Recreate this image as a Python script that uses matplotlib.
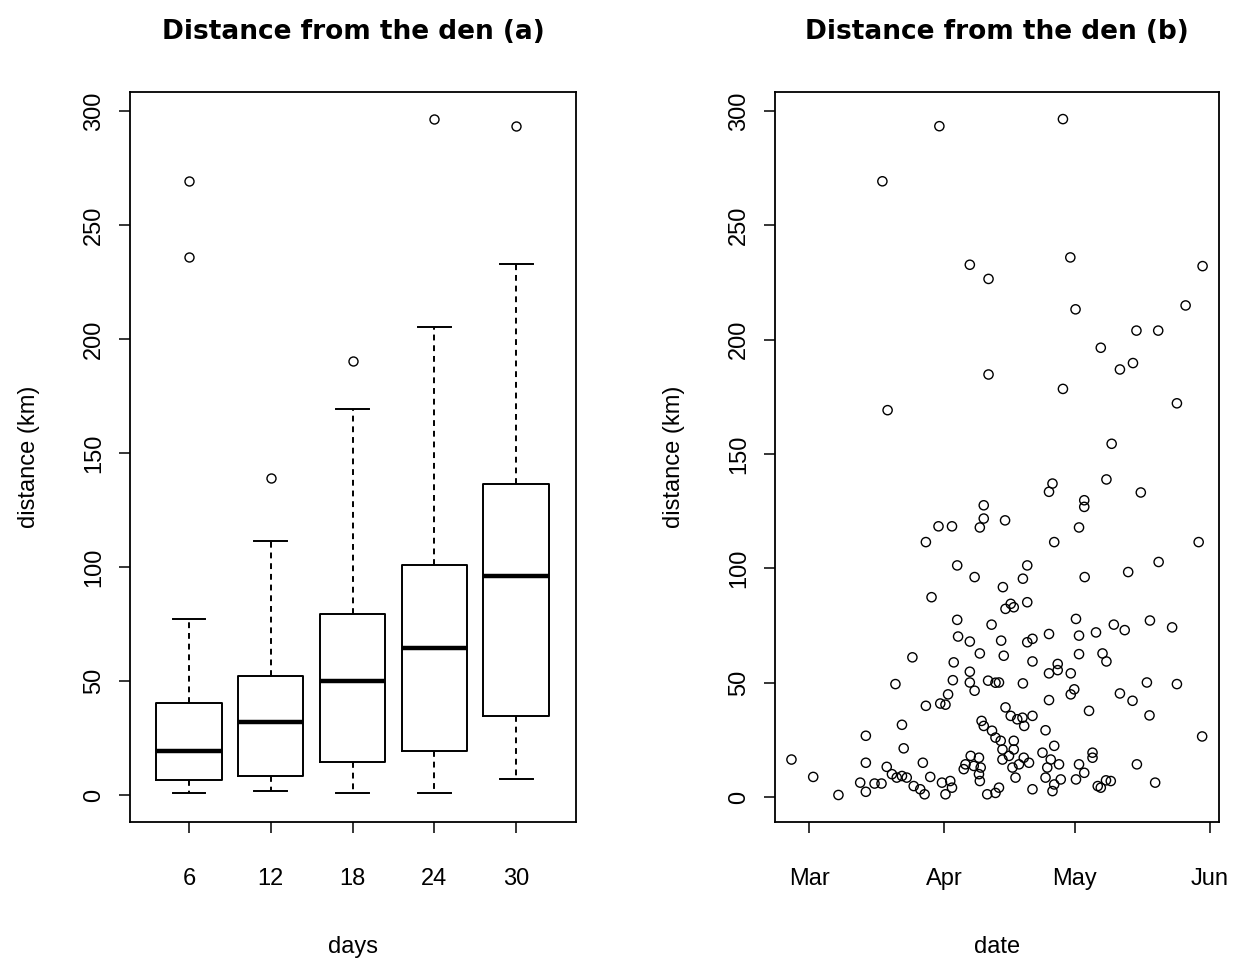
import matplotlib
matplotlib.use("Agg")
import matplotlib.pyplot as plt
import matplotlib.dates as mdates
from datetime import datetime

# --- panel (a): boxplot stats (km) ---
day_groups = ["6", "12", "18", "24", "30"]
whisker_low = [0.7, 1.8, 0.7, 0.9, 7.0]
q1 = [6.6, 8.5, 14.3, 19.3, 34.6]
medians = [19.4, 31.9, 50.1, 64.5, 96.0]
q3 = [40.2, 52.4, 79.2, 100.9, 136.4]
whisker_high = [77.3, 111.4, 169.3, 205.3, 232.9]
outliers = [[236.0, 269.3], [139.0], [190.4], [296.5], [293.4]]

# --- panel (b): scatter, days after 1 March and distance (km) ---
base_date = datetime(2005, 3, 1)
day_offsets = [
    29.9, 58.3, 16.8, 36.9, 41.2, 60.0, 90.4, 61.2, 86.5, 75.2, 80.2, 67.0,
    74.4, 71.4, 41.2, 58.3, 84.5, 18.0, 69.5,
    40.1, 40.1, 39.2, 29.7, 32.8, 26.8, 34.0, 38.0, 44.5, 28.1, 34.0, 41.9,
    55.9, 55.1, 63.2, 63.2, 45.0, 62.0, 56.3, 50.1, 49.1, 63.3, 46.3, 45.1,
    47.0, 50.1, 61.3,
    68.3, 76.2, 89.5, 80.3, 73.3, 78.3, 72.5, 83.4, 70.0,
    67.4, 68.3, 77.6, 84.5, 71.4, 74.3, 78.2, 90.3, 75.3, 68.2, 69.3, 67.0,
    79.5,
    19.8, 13.0, -4.1, 13.0, 0.9, 17.8, 19.0, 20.1, 11.7, 15.0, 16.6, 13.0,
    6.7,
    34.2, 36.9, 39.2, 23.7, 33.2, 33.0, 36.9, 36.9, 38.0, 41.1, 42.8, 31.9,
    30.1, 31.3, 26.8, 21.3, 39.6, 40.1, 42.0, 42.8, 21.7, 26.1, 37.1, 39.0,
    35.9, 37.8, 35.5, 39.4, 39.0, 39.2, 21.3, 22.4, 27.8, 24.0, 25.5, 26.5,
    30.5, 32.4, 32.8, 31.3, 40.9, 42.8,
    50.1, 51.3, 55.1, 62.0, 65.9, 44.1, 44.7, 62.0, 51.3, 57.1, 57.1, 55.1,
    60.1, 43.6, 49.1, 60.9, 60.1, 55.1, 64.3, 45.1, 46.3, 47.8, 49.0, 51.3,
    49.4, 54.3, 44.0, 47.0, 44.4, 47.0, 45.9, 49.3, 50.5, 48.2, 53.6, 56.3,
    55.5, 57.4, 54.7, 65.1, 65.1, 62.0, 63.2, 61.3, 44.4, 46.7, 47.4, 54.3,
    56.3, 57.8, 51.3, 55.9, 66.3, 43.6,
]
distances = [
    293.4, 296.5, 269.3, 232.8, 226.6, 236.0, 232.2, 213.3, 215.0, 204.0,
    204.0, 196.5, 189.8, 187.0, 184.8, 178.5, 172.2, 169.2, 154.5,
    127.6, 121.8, 117.9, 118.4, 118.4, 111.5, 101.3, 96.2, 91.8, 87.4, 77.5,
    75.4,
    137.1, 133.5, 129.8, 126.9, 121.0, 117.9, 111.5, 101.3, 95.5, 96.2, 84.5,
    82.3, 83.0, 85.2, 77.9,
    138.9, 133.2, 111.5, 102.8, 98.4, 77.2, 73.0, 74.2, 75.4,
    62.8, 59.3, 50.1, 49.4, 45.3, 42.1, 35.7, 26.5, 14.3, 7.3, 7.0, 4.1,
    6.3,
    49.4, 26.8, 16.4, 15.0, 8.8, 13.2, 10.0, 8.5, 6.3, 5.9, 5.9, 2.3,
    0.9,
    70.2, 68.0, 62.8, 61.1, 58.9, 51.1, 54.8, 50.1, 46.5, 50.9, 50.0, 44.9,
    40.9, 40.4, 39.9, 31.6, 33.3, 31.1, 29.0, 26.0, 21.3, 15.0, 18.0, 17.2,
    14.3, 13.6, 12.2, 12.9, 10.0, 7.0, 9.2, 8.5, 8.8, 4.8, 3.4, 1.2,
    6.3, 7.0, 4.1, 1.2, 1.2, 1.8,
    67.7, 69.2, 71.3, 70.6, 72.0, 68.4, 61.8, 62.5, 59.3, 58.2, 55.5, 54.1,
    54.1, 50.1, 49.7, 47.1, 44.9, 42.4, 37.7, 39.2, 35.5, 34.0, 34.7, 35.5,
    31.1, 29.2, 24.6, 24.6, 20.8, 20.8, 18.0, 17.2, 15.0, 14.3, 19.4, 22.4,
    16.4, 14.3, 12.9, 19.4, 17.2, 14.3, 10.6, 7.7, 16.4, 12.9, 8.5, 8.5,
    5.5, 7.7, 3.4, 2.6, 4.8, 4.1,
]

plt.rcParams["font.family"] = ["Liberation Sans", "DejaVu Sans"]

fig = plt.figure(figsize=(12.42, 9.63), dpi=100)
ax1 = fig.add_axes([0.1047, 0.1464, 0.359, 0.758])
ax2 = fig.add_axes([0.624, 0.1464, 0.3575, 0.758])

# boxplot
stats = []
for i, lab in enumerate(day_groups):
    stats.append({"label": lab, "whislo": whisker_low[i], "q1": q1[i], "med": medians[i],
                  "q3": q3[i], "whishi": whisker_high[i], "fliers": outliers[i]})
ax1.bxp(stats, widths=0.8, capwidths=0.4,
        boxprops=dict(color="black", linewidth=1.4),
        medianprops=dict(color="black", linewidth=3.2),
        whiskerprops=dict(color="black", linewidth=1.4, linestyle=(0, (3, 2.5))),
        capprops=dict(color="black", linewidth=1.4),
        flierprops=dict(marker="o", markerfacecolor="none", markeredgecolor="black",
                        markersize=6.5, markeredgewidth=1.0))

ymin, ymax = 0, max(max(o) for o in outliers)
pad = 0.04 * (ymax - ymin)
ax1.set_xlim(0.28, 5.73)
ax1.set_ylim(ymin - pad, ymax + pad)

# scatter
dates = [mdates.date2num(base_date) + d for d in day_offsets]
ax2.scatter(dates, distances, s=44, facecolors="none", edgecolors="black", linewidths=1.0)
xpad = 0.04 * (max(dates) - min(dates))
ax2.set_xlim(min(dates) - xpad, max(dates) + xpad)
ax2.set_ylim(min(distances) - 0.04 * (max(distances) - min(distances)),
             max(distances) + 0.04 * (max(distances) - min(distances)))
month_ticks = [mdates.date2num(datetime(2005, m, 1)) for m in (3, 4, 5, 6)]
ax2.set_xticks(month_ticks)
ax2.set_xticklabels(["Mar", "Apr", "May", "Jun"])

for ax, title, xlab in [(ax1, "Distance from the den (a)", "days"),
                        (ax2, "Distance from the den (b)", "date")]:
    ax.set_yticks([0, 50, 100, 150, 200, 250, 300])
    ax.set_yticklabels(["0", "50", "100", "150", "200", "250", "300"], rotation=90, va="center")
    ax.tick_params(axis="both", direction="out", length=8, width=1.1, labelsize=17, colors="black")
    ax.tick_params(axis="x", pad=25)
    ax.tick_params(axis="y", pad=10)
    for s in ax.spines.values():
        s.set_linewidth(1.3)
    ax.set_title(title, fontsize=19, fontweight="bold", family="DejaVu Sans", pad=38)
    ax.set_xlabel(xlab, fontsize=17, labelpad=33)
    ax.set_ylabel("distance (km)", fontsize=17, labelpad=31)

fig.savefig("out.png", dpi=100)
